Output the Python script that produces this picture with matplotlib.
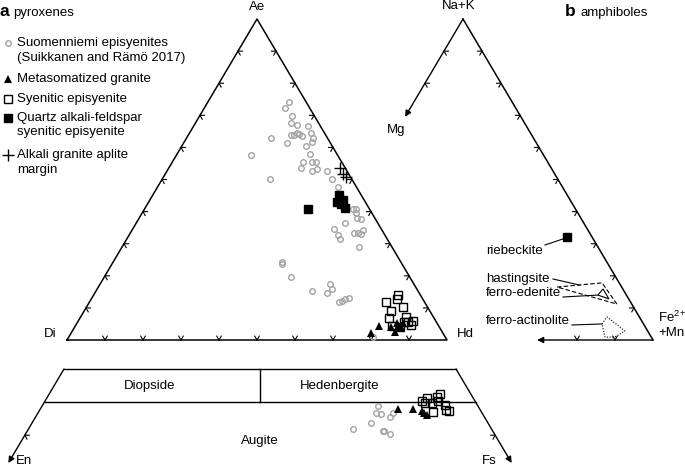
import numpy as np
import matplotlib.pyplot as plt

plt.rcParams['font.family'] = ['Liberation Sans', 'DejaVu Sans']
plt.rcParams['font.size'] = 9.5
plt.rcParams['mathtext.fontset'] = 'custom'
plt.rcParams['mathtext.rm'] = 'Liberation Sans'

# --- a: pyroxenes, Ae-Di-Hd triangle (Ae %, Hd %) ---
suo_ae = [74.2, 72.2, 69.8, 67.7, 67.0, 66.7, 62.9, 63.9, 63.9, 64.6, 64.2, 63.6, 64.4, 63.0,
          61.5, 60.5, 61.8, 57.5, 57.9, 55.5, 53.7, 55.5, 55.5, 52.7, 53.3, 52.8, 50.3, 50.2,
          47.8, 40.7, 40.7, 39.5, 37.6, 38.1, 36.4, 34.6, 32.7, 31.6, 33.2, 33.2, 32.9, 34.3,
          29.1, 24.4, 23.6, 19.7, 15.4, 14.7, 17.4, 15.8, 11.9, 12.2, 12.8, 13.1, 0.9]
suo_hd = [21.4, 21.4, 24.4, 25.1, 26.9, 30.1, 22.2, 27.0, 27.8, 28.3, 29.0, 30.1, 32.0, 33.3,
          27.2, 32.6, 33.7, 19.8, 35.0, 34.4, 34.6, 36.8, 37.7, 38.2, 39.1, 41.9, 28.4, 44.6,
          47.3, 55.0, 55.7, 56.3, 58.5, 57.2, 55.0, 53.0, 54.9, 56.0, 58.9, 60.1, 60.8, 60.8,
          62.3, 44.5, 44.9, 49.0, 56.9, 61.0, 60.5, 61.9, 65.7, 66.2, 66.8, 67.7, 80.1]

meta_ae = [4.5, 2.3, 4.0, 2.6, 4.4, 4.0, 5.2, 5.4]
meta_hd = [79.9, 78.8, 83.3, 85.0, 85.0, 85.9, 85.9, 84.1]

sye_ae = [14.0, 12.9, 11.7, 9.1, 10.2, 6.8, 7.2, 6.0, 4.7, 4.5, 5.7, 4.1, 5.6]
sye_hd = [80.0, 80.3, 78.1, 80.7, 83.4, 81.4, 85.6, 88.1, 88.2, 83.4, 85.8, 85.6, 86.9]

qafs_ae = [40.8, 45.2, 43.1, 43.6, 41.2, 42.4]
qafs_hd = [43.1, 49.1, 49.4, 50.9, 52.6, 50.9]

apl_ae = [53.7, 51.7, 50.8]
apl_hd = [45.0, 46.8, 47.9]

# --- lower: Wo-En-Fs quadrilateral (Wo %, Fs %) ---
suo_wo = [44.4, 43.4, 43.2, 43.3, 42.7, 41.9, 41.0, 40.7, 40.7, 40.2]
suo_fs = [42.9, 43.1, 43.8, 45.3, 45.2, 43.2, 41.3, 45.3, 45.5, 46.5]
meta_wo = [43.9, 44.0, 43.7, 43.1, 43.4]
meta_fs = [45.6, 47.5, 48.8, 49.7, 49.2]
sye_wo = [45.1, 45.6, 45.7, 46.2, 44.8, 44.8, 45.1, 44.6, 43.5, 43.8, 43.7]
sye_fs = [48.1, 48.5, 49.7, 49.9, 48.6, 49.5, 50.2, 51.3, 50.3, 51.8, 52.2]

# --- b: amphiboles, (Na+K) - Mg - (Fe2+ + Mn) (Na+K %, Fe %) ---
rieb_nak, rieb_fe = [32.1], [61.3]
hast_nak = [16.5, 17.8, 11.2]
hast_fe = [66.5, 77.7, 84.9]
fed_nak = [14.0, 15.9, 12.8]
fed_fe = [78.5, 78.9, 82.0]
fact_nak = [5.0, 7.2, 2.8, 0.9, 0.9]
fact_fe = [84.1, 84.3, 91.2, 89.5, 86.9]

W, H = 685, 467
fig = plt.figure(figsize=(W / 100, H / 100), dpi=100)
ax = fig.add_axes([0, 0, 1, 1])
ax.set_xlim(0, W)
ax.set_ylim(H, 0)
ax.axis('off')

SX, SY = 3.8, 3.21


def tri(top, right, x0):
    top = np.asarray(top, float)
    right = np.asarray(right, float)
    return x0 + SX * right + SX / 2 * top, 340 - SY * top


def quad(wo, fs):
    wo = np.asarray(wo, float)
    fs = np.asarray(fs, float)
    return -132 + 7.84 * (fs + wo / 2), 700 - 6.62 * wo


def chevrons(p, q, centre, fracs, size=4.5):
    p = np.array(p, float)
    q = np.array(q, float)
    d = (q - p) / np.hypot(*(q - p))
    n = np.array([-d[1], d[0]])
    if np.dot(np.array(centre) - (p + q) / 2, n) < 0:
        n = -n
    for f in fracs:
        c = p + f * (q - p)
        for a in (np.pi / 6, -np.pi / 6):
            r = np.array([n[0] * np.cos(a) - n[1] * np.sin(a), n[0] * np.sin(a) + n[1] * np.cos(a)])
            ax.plot([c[0], c[0] + size * r[0]], [c[1], c[1] + size * r[1]], color='k', lw=0.8)


def arrow(p, q):
    ax.annotate('', xy=q, xytext=p,
                arrowprops=dict(arrowstyle='-|>', color='k', lw=1.0, mutation_scale=9,
                                shrinkA=0, shrinkB=0))


tens = np.arange(1, 10) / 10

# panel a frame
A0 = 67
di, hd, ae = tri(0, 0, A0), tri(0, 100, A0), tri(100, 0, A0)
cen_a = tri(33.3, 33.3, A0)
ax.plot([di[0], hd[0], ae[0], di[0]], [di[1], hd[1], ae[1], di[1]], color='k', lw=1.1)
chevrons(di, hd, cen_a, tens)
chevrons(hd, ae, cen_a, tens)
chevrons(ae, di, cen_a, tens)

gray = '#a3a3a3'
circ = dict(marker='o', ls='none', ms=4, mfc='none', mec=gray, mew=1.0)
trig = dict(marker='^', ls='none', ms=5.5, color='k', mew=0)
osq = dict(marker='s', ls='none', ms=5.2, mfc='none', mec='k', mew=1.0)
fsq = dict(marker='s', ls='none', ms=5.6, color='k')
crs = dict(marker='+', ls='none', ms=8, color='k', mew=1.0)

ax.plot(*tri(suo_ae, suo_hd, A0), **circ)
ax.plot(*tri(meta_ae, meta_hd, A0), **trig)
ax.plot(*tri(sye_ae, sye_hd, A0), **osq)
ax.plot(*tri(qafs_ae, qafs_hd, A0), **fsq)
ax.plot(*tri(apl_ae, apl_hd, A0), **crs)

ax.text(ae[0], 7, 'Ae', ha='center', va='center')
ax.text(50, 334, 'Di', ha='center', va='center')
ax.text(465, 334, 'Hd', ha='center', va='center')

# lower quadrilateral
tl, tr = quad(50, 0), quad(50, 50)
ml, mr = quad(45, 0), quad(45, 55)
ax.plot([tl[0], tr[0]], [tl[1], tr[1]], color='k', lw=1.0)
ax.plot([ml[0], mr[0]], [ml[1], mr[1]], color='k', lw=1.0)
d1, d2 = quad(50, 25), quad(45, 27.5)
ax.plot([d1[0], d2[0]], [d1[1], d2[1]], color='k', lw=1.0)
arrow(tl, quad(35.8, 0))
arrow(tr, quad(35.8, 64.2))
cen_q = quad(45, 27.5)
chevrons(tl, quad(0, 0), cen_q, [0.2])
chevrons(tr, quad(0, 100), cen_q, [0.2])

ax.plot(*quad(suo_wo, suo_fs), **circ)
ax.plot(*quad(meta_wo, meta_fs), **trig)
ax.plot(*quad(sye_wo, sye_fs), **osq)

ax.text(150, 386, 'Diopside', ha='center', va='center')
ax.text(340, 386, 'Hedenbergite', ha='center', va='center')
ax.text(260, 441, 'Augite', ha='center', va='center')
ax.text(24, 461, 'En', ha='center', va='center')
ax.text(489, 461, 'Fs', ha='center', va='center')

# panel b frame
B0 = 273
apex, fe_c = tri(100, 0, B0), tri(0, 100, B0)
cen_b = tri(33.3, 33.3, B0)
ax.plot([apex[0], fe_c[0]], [apex[1], fe_c[1]], color='k', lw=1.1)
arrow(apex, tri(69.5, 0, B0))
arrow(fe_c, tri(0, 69.5, B0))
chevrons(apex, fe_c, cen_b, tens)
chevrons(apex, tri(0, 0, B0), cen_b, [0.1, 0.2])
chevrons(fe_c, tri(0, 0, B0), cen_b, [0.1, 0.2])

ax.plot(*tri(rieb_nak, rieb_fe, B0), **fsq)
hx, hy = tri(hast_nak, hast_fe, B0)
ax.fill(hx, hy, fill=False, ls=(0, (4, 2)), lw=0.8, color='k')
ex, ey = tri(fed_nak, fed_fe, B0)
ax.fill(ex, ey, fill=False, lw=0.8, color='k')
fx, fy = tri(fact_nak, fact_fe, B0)
ax.fill(fx, fy, fill=False, ls=(0, (1, 1.5)), lw=0.8, color='k')


def leader(label, ty, start, target):
    ax.text(486, ty, label, ha='left', va='center')
    ax.plot([start[0], target[0]], [start[1], target[1]], color='k', lw=0.8)


rx, ry = tri(rieb_nak, rieb_fe, B0)
leader('riebeckite', 251, (545, 245), (rx[0] - 4, ry[0] + 2))
leader('hastingsite', 279, (553, 279), tri(17.1, 72.2, B0))
leader('ferro-edenite', 293, (563, 297), (ex[0], ey[0]))
leader('ferro-actinolite', 321, (572, 325), (fx[0], fy[0]))

ax.text(apex[0] - 4, 6, 'Na+K', ha='center', va='center')
ax.text(396, 130, 'Mg', ha='center', va='center')
ax.text(658, 317, 'Fe$^{2\\!+}$', ha='left', va='center')
ax.text(658, 333, '+Mn', ha='left', va='center')

# panel labels
ax.text(0, 12, 'a', fontsize=12.5, fontweight='bold', ha='left', va='center')
ax.text(13, 13, 'pyroxenes', ha='left', va='center')
ax.text(565, 12, 'b', fontsize=12.5, fontweight='bold', ha='left', va='center')
ax.text(581, 13, 'amphiboles', ha='left', va='center')

# legend
entries = [
    (circ, ['Suomenniemi episyenites', '(Suikkanen and Rämö 2017)'], 43),
    (trig, ['Metasomatized granite'], 79),
    (osq, ['Syenitic episyenite'], 99),
    (fsq, ['Quartz alkali-feldspar', 'syenitic episyenite'], 118),
    (crs, ['Alkali granite aplite', 'margin'], 155),
]
for style, lines, y in entries:
    ax.plot([8.5], [y], **style)
    for i, line in enumerate(lines):
        ax.text(17, y + i * 14.5, line, ha='left', va='center')

fig.savefig('out.png', dpi=100)
